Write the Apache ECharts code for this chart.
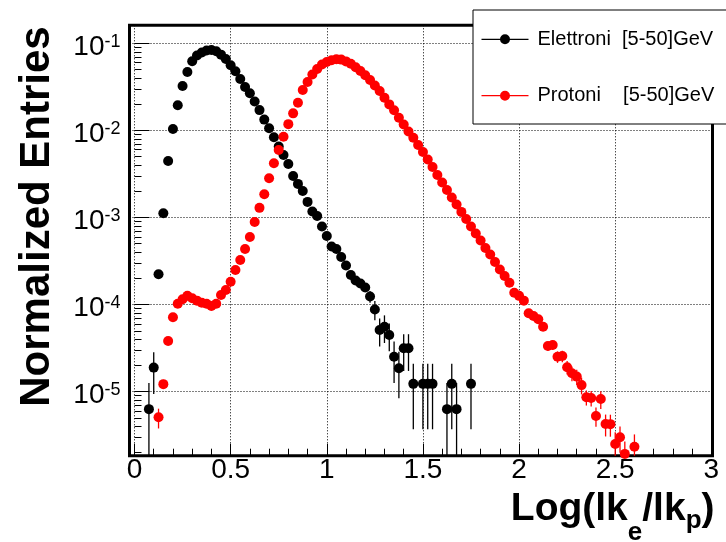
<!DOCTYPE html>
<html><head><meta charset="utf-8">
<script src="https://cdn.jsdelivr.net/npm/echarts@6/dist/echarts.min.js"></script>
<style>html,body{margin:0;padding:0;background:#fff}#c{width:726px;height:542px}</style>
</head><body><div id="c"></div>
<script>
// ---- data ----
const binCenters = [
 0.075,0.1,0.125,0.15,0.175,0.2,0.225,0.25,0.275,0.3,
 0.325,0.35,0.375,0.4,0.425,0.45,0.475,0.5,0.525,0.55,
 0.575,0.6,0.625,0.65,0.675,0.7,0.725,0.75,0.775,0.8,
 0.825,0.85,0.875,0.9,0.925,0.95,0.975,1.0,1.025,1.05,
 1.075,1.1,1.125,1.15,1.175,1.2,1.225,1.25,1.275,1.3,
 1.325,1.35,1.375,1.4,1.425,1.45,1.475,1.5,1.525,1.55,
 1.575,1.6,1.625,1.65,1.675,1.7,1.725,1.75,1.775,1.8,
 1.825,1.85,1.875,1.9,1.925,1.95,1.975,2.0,2.025,2.05,
 2.075,2.1,2.125,2.15,2.175,2.2,2.225,2.25,2.275,2.3,
 2.325,2.35,2.375,2.4,2.425,2.45,2.475,2.5,2.525,2.55,
 2.575,2.6
];
const electrons = [
 6.3e-6,1.89e-5,2.23e-4,1.12e-3,4.45e-3,1.04e-2,1.94e-2,3.24e-2,4.68e-2,6.21e-2,
 7.24e-2,7.84e-2,8.26e-2,8.38e-2,8.09e-2,7.41e-2,6.60e-2,5.59e-2,4.78e-2,3.89e-2,
 3.15e-2,2.67e-2,2.15e-2,1.71e-2,1.33e-2,1.06e-2,8.33e-3,6.53e-3,5.22e-3,4.11e-3,
 2.99e-3,2.43e-3,2.01e-3,1.51e-3,1.17e-3,1.04e-3,7.88e-4,6.13e-4,4.65e-4,4.35e-4,
 3.52e-4,2.81e-4,2.19e-4,1.89e-4,1.75e-4,1.57e-4,1.24e-4,8.79e-5,5.11e-5,5.57e-5,
 4.48e-5,2.52e-5,1.86e-5,3.15e-5,3.15e-5,1.23e-5,null,1.23e-5,1.23e-5,1.23e-5,
 null,null,6.3e-6,1.23e-5,6.3e-6,null,null,1.23e-5
];
const electronErr = [
 6.3e-6,0.95e-5,null,null,null,null,null,null,null,null,
 null,null,null,null,null,null,null,null,null,null,
 null,null,null,null,null,null,null,null,null,null,
 null,null,null,null,null,null,null,null,null,null,
 null,null,null,null,null,null,1.9e-5,2.2e-5,1.8e-5,1.95e-5,
 1.57e-5,1.26e-5,1.02e-5,1.42e-5,1.42e-5,8.6e-6,null,8.6e-6,8.6e-6,8.6e-6,
 null,null,6.3e-6,8.6e-6,6.3e-6,null,null,8.6e-6
];
const protons = [
 null,null,5.08e-6,1.22e-5,3.82e-5,7.14e-5,1.02e-4,1.15e-4,1.26e-4,1.18e-4,
 1.11e-4,1.05e-4,1.02e-4,9.64e-5,1.02e-4,1.29e-4,1.47e-4,1.83e-4,2.49e-4,3.25e-4,
 4.35e-4,5.97e-4,8.87e-4,1.29e-3,1.85e-3,2.82e-3,4.19e-3,5.96e-3,8.47e-3,1.18e-2,
 1.57e-2,2.08e-2,2.91e-2,3.60e-2,4.39e-2,5.07e-2,5.71e-2,6.10e-2,6.40e-2,6.55e-2,
 6.50e-2,6.20e-2,5.82e-2,5.32e-2,4.81e-2,4.30e-2,3.79e-2,3.28e-2,2.83e-2,2.37e-2,
 1.99e-2,1.70e-2,1.40e-2,1.17e-2,9.71e-3,8.22e-3,6.79e-3,5.65e-3,4.63e-3,3.80e-3,
 3.08e-3,2.52e-3,2.07e-3,1.70e-3,1.41e-3,1.16e-3,9.62e-4,7.89e-4,6.55e-4,5.45e-4,
 4.47e-4,3.76e-4,3.08e-4,2.53e-4,2.13e-4,1.78e-4,1.37e-4,1.26e-4,1.11e-4,7.94e-5,
 7.40e-5,6.78e-5,5.57e-5,3.35e-5,3.44e-5,2.52e-5,2.57e-5,1.91e-5,1.63e-5,1.49e-5,
 1.19e-5,8.63e-6,8.47e-6,5.26e-6,8.24e-6,4.26e-6,4.24e-6,2.51e-6,2.99e-6,1.93e-6,
 null,2.33e-6
];
const protonErr = [
 null,null,1.3e-6,1.5e-6,null,null,null,null,null,null,
 null,null,null,null,null,null,null,null,null,null,
 null,null,null,null,null,null,null,null,null,null,
 null,null,null,null,null,null,null,null,null,null,
 null,null,null,null,null,null,null,null,null,null,
 null,null,null,null,null,null,null,null,null,null,
 null,null,null,null,null,null,null,null,null,null,
 null,null,null,null,null,null,null,null,null,null,
 null,null,null,4.0e-6,4.1e-6,3.8e-6,3.9e-6,3.4e-6,3.1e-6,3.0e-6,
 2.6e-6,1.7e-6,1.7e-6,1.3e-6,1.9e-6,1.2e-6,1.2e-6,0.9e-6,1.0e-6,0.75e-6,
 null,0.9e-6
];
const xMinorTicks = [0.1,0.2,0.3,0.4,0.6,0.7,0.8,0.9,1.1,1.2,1.3,1.4,1.6,1.7,1.8,1.9,
 2.1,2.2,2.3,2.4,2.6,2.7,2.8,2.9];
const yMinorTicks = [2e-6,3e-6,4e-6,5e-6,6e-6,7e-6,8e-6,9e-6,
 2e-5,3e-5,4e-5,5e-5,6e-5,7e-5,8e-5,9e-5,
 2e-4,3e-4,4e-4,5e-4,6e-4,7e-4,8e-4,9e-4,
 2e-3,3e-3,4e-3,5e-3,6e-3,7e-3,8e-3,9e-3,
 2e-2,3e-2,4e-2,5e-2,6e-2,7e-2,8e-2,9e-2];
const xRange = [-0.026, 3.006];
const yRange = [1.84e-6, 0.161];
const seriesNames = ['Elettroni  [5-50]GeV', 'Protoni    [5-50]GeV'];
const seriesColors = ['#000000', '#ff0000'];
const xTitle = ['Log(lk', 'e', '/lk', 'p', ')'];
const yTitle = 'Normalized Entries';

// ---- build ----
const FONT = "'Liberation Sans', Arial, Helvetica, sans-serif";
function points(vals) {
  const out = [];
  vals.forEach((v, i) => { if (v != null) out.push([binCenters[i], v]); });
  return out;
}
function bars(vals, errs) {
  const out = [];
  vals.forEach((v, i) => {
    const e = errs[i];
    if (v == null || e == null) return;
    const lo = v - e > yRange[0] ? v - e : yRange[0];
    out.push([binCenters[i], lo, v + e]);
  });
  return out;
}
function errRender(color) {
  return function (params, api) {
    const x = api.value(0);
    const p1 = api.coord([x, api.value(2)]);
    const p2 = api.coord([x, api.value(1)]);
    const cs = params.coordSys;
    const top = cs.y, bot = cs.y + cs.height;
    const y1 = Math.max(top, Math.min(bot, p1[1]));
    const y2 = Math.max(top, Math.min(bot, p2[1]));
    return { type: 'line', shape: { x1: p1[0], y1: y1, x2: p2[0], y2: y2 },
      style: { stroke: color, lineWidth: 1.3 } };
  };
}
const iconPath = 'path://M0,4.4L47,4.4L47,5.6L0,5.6Z M18.5,5A5,5 0 1,1 28.5,5A5,5 0 1,1 18.5,5Z';

const chart = echarts.init(document.getElementById('c'), null, { renderer: 'canvas' });
chart.setOption({
  animation: false,
  backgroundColor: '#fff',
  grid: { left: 129.5, right: 13.5, top: 25.3, bottom: 86.3, show: true,
    borderColor: '#000', borderWidth: 3, backgroundColor: 'transparent',
    containLabel: false, outerBoundsMode: 'none' },
  legend: {
    orient: 'vertical', left: 473, top: 10,
    padding: [17.3, 40, 16.3, 8.5], itemGap: 32.4, itemWidth: 47, itemHeight: 10,
    backgroundColor: '#fff', borderColor: '#000', borderWidth: 1, selectedMode: false,
    textStyle: { fontSize: 20, color: '#000', fontFamily: FONT, lineHeight: 24, padding: [0, 0, 0, 4] },
    data: [{ name: seriesNames[0], icon: iconPath }, { name: seriesNames[1], icon: iconPath }],
    z: 10
  },
  xAxis: [{
    type: 'value', min: xRange[0], max: xRange[1], position: 'bottom',
    axisLine: { show: false, onZero: false },
    axisTick: { show: true, inside: true, length: 12, lineStyle: { color: '#000', width: 1 } },
    axisLabel: { show: true, margin: 1, fontSize: 28, lineHeight: 28, color: '#000', fontFamily: FONT,
      showMinLabel: false, showMaxLabel: false },
    splitLine: { show: true, lineStyle: { color: '#000', width: 1, type: [1, 2] } },
    name: '{b|' + xTitle[0] + '}{se|' + xTitle[1] + '}{b|' + xTitle[2] + '}{sp|' + xTitle[3] + '}{b|' + xTitle[4] + '}',
    nameLocation: 'end', nameGap: 2,
    nameTextStyle: {
      align: 'right', verticalAlign: 'top', padding: [34.2, 0, 0, 0],
      rich: {
        b: { fontSize: 39, fontWeight: 'bold', fontFamily: FONT, color: '#000', verticalAlign: 'top' },
        se: { fontSize: 26, fontWeight: 'bold', fontFamily: FONT, color: '#000', verticalAlign: 'top', padding: [29.8, 0, 0, 0] },
        sp: { fontSize: 26, fontWeight: 'bold', fontFamily: FONT, color: '#000', verticalAlign: 'top', padding: [17.8, 0, 0, 0] }
      }
    }
  }, {
    type: 'value', min: xRange[0], max: xRange[1], position: 'bottom',
    axisLine: { show: false, onZero: false },
    axisTick: { show: true, inside: true, length: 7, customValues: xMinorTicks, lineStyle: { color: '#000', width: 1 } },
    axisLabel: { show: false }, splitLine: { show: false }
  }],
  yAxis: [{
    type: 'log', logBase: 10, min: yRange[0], max: yRange[1], position: 'left',
    axisLine: { show: false },
    axisTick: { show: true, inside: true, length: 15, lineStyle: { color: '#000', width: 1 } },
    axisLabel: {
      show: true, margin: 9, showMinLabel: false, showMaxLabel: false, padding: [7.4, 0, 0, 0],
      formatter: function (v) { return '{b|10}{s|' + Math.round(Math.log10(v)) + '}'; },
      rich: {
        b: { fontSize: 28, lineHeight: 28, fontFamily: FONT, color: '#000', verticalAlign: 'bottom' },
        s: { fontSize: 18, lineHeight: 18, fontFamily: FONT, color: '#000', verticalAlign: 'top' }
      }
    },
    splitLine: { show: true, lineStyle: { color: '#000', width: 1, type: [1, 2] } },
    name: yTitle, nameLocation: 'middle', nameRotate: 90, nameGap: 92.2,
    nameTextStyle: { fontSize: 42, fontWeight: 'bold', fontFamily: FONT, color: '#000',
      align: 'center', verticalAlign: 'middle', padding: [0, 0, 0, 48] }
  }, {
    type: 'log', logBase: 10, min: yRange[0], max: yRange[1], position: 'left',
    axisLine: { show: false },
    axisTick: { show: true, inside: true, length: 7, customValues: yMinorTicks, lineStyle: { color: '#000', width: 1 } },
    axisLabel: { show: false }, splitLine: { show: false }
  }],
  series: [
    { name: 'errE', type: 'custom', xAxisIndex: 0, yAxisIndex: 0, renderItem: errRender(seriesColors[0]),
      data: bars(electrons, electronErr), encode: { x: 0, y: [1, 2] }, z: 2, silent: true },
    { name: seriesNames[0], type: 'scatter', xAxisIndex: 0, yAxisIndex: 0, symbol: 'circle', symbolSize: 10,
      itemStyle: { color: seriesColors[0], opacity: 1 }, data: points(electrons), z: 3 },
    { name: 'errP', type: 'custom', xAxisIndex: 0, yAxisIndex: 0, renderItem: errRender(seriesColors[1]),
      data: bars(protons, protonErr), encode: { x: 0, y: [1, 2] }, z: 4, silent: true },
    { name: seriesNames[1], type: 'scatter', xAxisIndex: 0, yAxisIndex: 0, symbol: 'circle', symbolSize: 10,
      itemStyle: { color: seriesColors[1], opacity: 1 }, data: points(protons), z: 5 }
  ]
});
</script>
</body></html>
